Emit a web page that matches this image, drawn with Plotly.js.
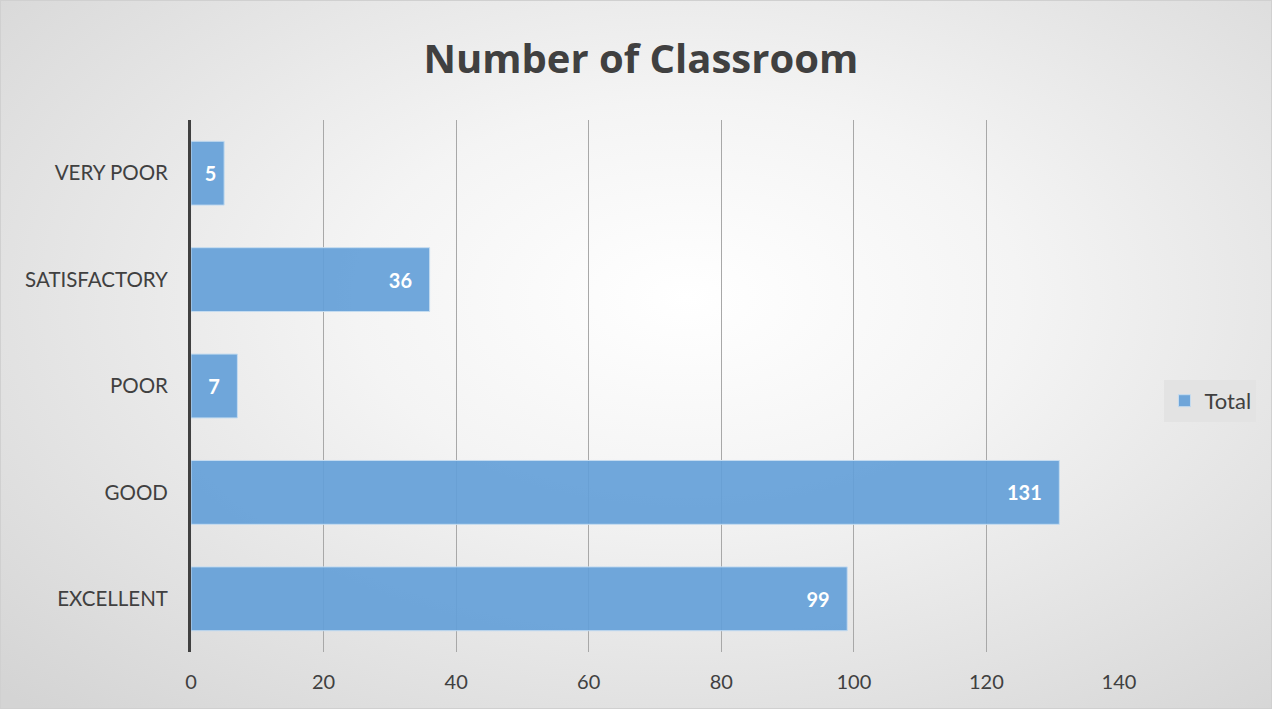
<!DOCTYPE html>
<html>
<head>
<meta charset="utf-8">
<script src="https://cdn.plot.ly/plotly-3.0.1.min.js"></script>
<style>
  html, body { margin: 0; padding: 0; }
  #chart {
    width: 1272px; height: 709px; box-sizing: border-box;
    border: 1px solid #d0d0d0;
    background: radial-gradient(ellipse 75% 80% at 54% 42%, #ffffff 0%, #f4f4f4 35%, #d4d4d4 100%);
  }
</style>
</head>
<body>
<div id="chart"></div>
<script>
const categories = ["EXCELLENT", "GOOD", "POOR", "SATISFACTORY", "VERY POOR"];
const totals = [99, 131, 7, 36, 5];
const xTicks = [0, 20, 40, 60, 80, 100, 120, 140];
const seriesName = "Total";
const chartTitle = "Number of Classroom";

// label right padding (non-breaking spaces); narrower for very short bars
const labelText = totals.map(v => String(v) + (v >= 7 ? "\u00a0\u00a0\u00a0" : "\u00a0"));

const trace = {
  type: "bar",
  orientation: "h",
  name: seriesName,
  x: totals,
  y: categories,
  width: 0.6,
  marker: { color: "rgba(100,160,216,0.92)", line: { color: "#c5dcf0", width: 1 } },
  text: labelText,
  textposition: "inside",
  insidetextanchor: "end",
  constraintext: "none",
  textfont: { family: "Lato, 'Open Sans', sans-serif", size: 20, color: "#ffffff", weight: "bold" },
  hoverinfo: "x+y",
  showlegend: true
};

const layout = {
  width: 1272, height: 709,
  paper_bgcolor: "rgba(0,0,0,0)",
  plot_bgcolor: "rgba(0,0,0,0)",
  margin: { l: 190, r: 154, t: 119, b: 58 },
  title: {
    text: "<b>" + chartTitle + "</b>",
    font: { family: "'Open Sans', Lato, sans-serif", size: 40, color: "#404040" },
    x: 0.503, xanchor: "center", xref: "container",
    y: 1 - 58 / 709, yanchor: "middle", yref: "container"
  },
  xaxis: {
    range: [0, 140],
    tickvals: xTicks,
    ticktext: xTicks.map(String),
    showgrid: true, gridcolor: "#a8a8a8", gridwidth: 1,
    zeroline: false, showline: false,
    ticks: "", ticklabelstandoff: 16,
    tickfont: { family: "Lato, 'Open Sans', sans-serif", size: 20, color: "#404040" },
    fixedrange: true
  },
  yaxis: {
    type: "category",
    categoryorder: "array", categoryarray: categories,
    range: [-0.5, 4.5],
    showgrid: false, zeroline: false,
    showline: true, linecolor: "#404040", linewidth: 3,
    ticks: "", ticklabelstandoff: 16,
    tickfont: { family: "Lato, 'Open Sans', sans-serif", size: 20.5, color: "#404040" },
    fixedrange: true
  },
  legend: {
    x: 1.049, xanchor: "left", y: 0.472, yanchor: "middle",
    bgcolor: "rgba(226,226,226,0.85)",
    font: { family: "Lato, 'Open Sans', sans-serif", size: 22, color: "#404040" },
    itemwidth: 30
  },
  showlegend: true
};

Plotly.newPlot("chart", [trace], layout, { displayModeBar: false, staticPlot: true });
</script>
</body>
</html>
